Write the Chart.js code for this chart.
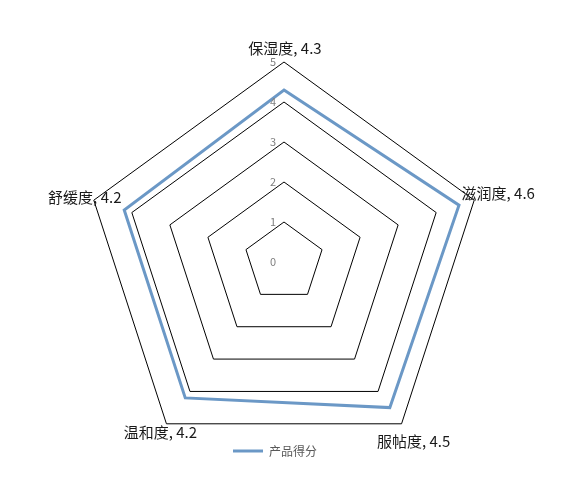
<!DOCTYPE html>
<html>
<head>
<meta charset="utf-8">
<script src="https://cdn.jsdelivr.net/npm/chart.js@4/dist/chart.umd.min.js"></script>
<style>
html,body{margin:0;padding:0;background:#fff;}
#wrap{width:578px;height:478px;}
</style>
</head>
<body>
<div id="wrap"><canvas id="c" width="578" height="478"></canvas></div>
<script>
const categories = ['保湿度', '滋润度', '服帖度', '温和度', '舒缓度'];
const scores = [4.3, 4.6, 4.5, 4.2, 4.2];
const seriesName = '产品得分';
const tickValues = [0, 1, 2, 3, 4, 5];

const FONT = "'Noto Sans CJK SC', 'Noto Sans', sans-serif";
const LINE_COLOR = '#6b98c6';
// text-centre offsets from each outer vertex (style only)
const labelOffsets = [[1, -14], [24, -7], [12, 17], [-6, 8], [-9, -3]];

const labelPlugin = {
  id: 'labelPlugin',
  afterLayout(chart) {
    const lg = chart.legend;
    if (lg) {
      lg.top = 435; lg.bottom = 467; lg.height = 32;
      lg.left = 0; lg.right = 550; lg.width = 550;
    }
  },
  afterDraw(chart) {
    const scale = chart.scales.r;
    const ctx = chart.ctx;
    ctx.save();
    // tick labels
    ctx.font = '11px ' + FONT;
    ctx.fillStyle = '#7f7f7f';
    ctx.textAlign = 'center';
    ctx.textBaseline = 'middle';
    tickValues.forEach(v => {
      const d = scale.getDistanceFromCenterForValue(v);
      ctx.fillText(String(v), scale.xCenter - 11, scale.yCenter - d);
    });
    // point labels
    ctx.font = '15px ' + FONT;
    ctx.fillStyle = '#1a1a1a';
    const outer = scale.getDistanceFromCenterForValue(scale.max);
    categories.forEach((c, i) => {
      const p = scale.getPointPosition(i, outer);
      const off = labelOffsets[i];
      ctx.fillText(c + ', ' + scores[i], p.x + off[0], p.y + off[1]);
    });
    ctx.restore();
  }
};

new Chart(document.getElementById('c'), {
  type: 'radar',
  data: {
    labels: categories,
    datasets: [{
      label: seriesName,
      data: scores,
      borderColor: LINE_COLOR,
      backgroundColor: LINE_COLOR,
      borderWidth: 3,
      fill: false,
      pointRadius: 0,
      pointHoverRadius: 0,
      tension: 0
    }]
  },
  options: {
    responsive: false,
    animation: false,
    devicePixelRatio: 1,
    layout: { padding: { top: 62, bottom: 15, left: 0, right: 10 } },
    plugins: {
      legend: {
        display: true,
        position: 'bottom',
        maxHeight: 1,
        labels: {
          usePointStyle: true,
          pointStyle: 'line',
          pointStyleWidth: 30,
          padding: 10,
          color: '#595959',
          font: { size: 12, family: FONT }
        }
      },
      tooltip: { enabled: false }
    },
    scales: {
      r: {
        min: 0,
        max: 5,
        ticks: { display: false, stepSize: 1 },
        pointLabels: { display: false },
        angleLines: { display: false },
        grid: { color: '#000000', lineWidth: 1, circular: false }
      }
    }
  },
  plugins: [labelPlugin]
});
</script>
</body>
</html>
